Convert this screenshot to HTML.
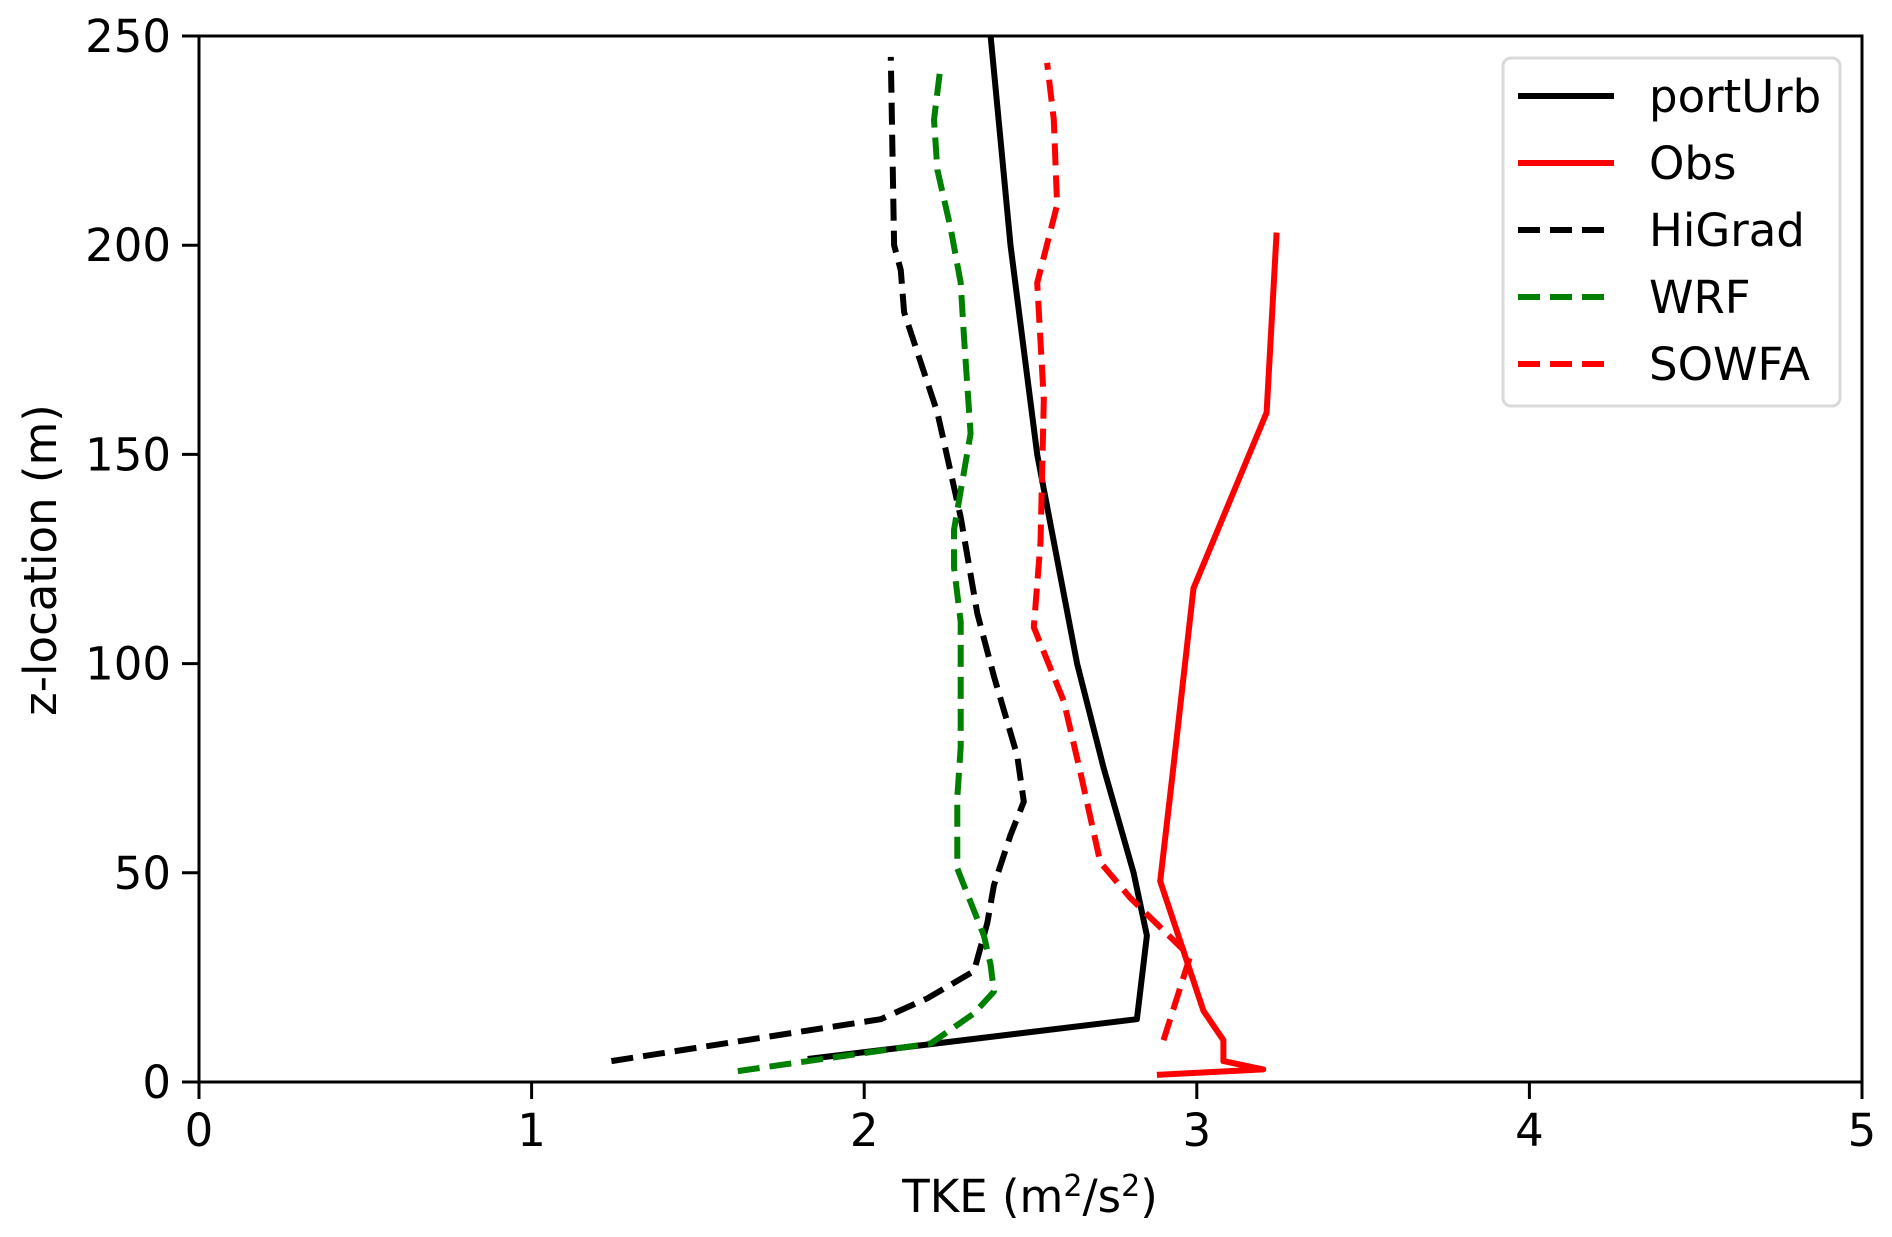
<!DOCTYPE html>
<html><head><meta charset="utf-8"><style>
html,body{margin:0;padding:0;background:#fff;}
svg{display:block;font-family:"DejaVu Sans","Liberation Sans",sans-serif;}
</style></head><body>
<svg id="chart" width="1892" height="1237" viewBox="0 0 1892 1237"></svg>
<script>
const xTicks=[0,1,2,3,4,5];
const yTicks=[0,50,100,150,200,250];
const portUrbX=[1.83,2.82,2.85,2.81,2.72,2.64,2.58,2.52,2.48,2.44,2.41,2.38];
const portUrbZ=[5.5,15,35,50,75,100,125,150,175,200,225,250];
const obsX=[2.88,3.20,3.08,3.08,3.02,2.89,2.93,2.99,3.21,3.24];
const obsZ=[1.7,3,5,10,17,48,75.5,118,160,203];
const higradX=[1.24,2.05,2.19,2.33,2.37,2.39,2.44,2.48,2.46,2.39,2.34,2.29,2.22,2.12,2.11,2.09,2.08];
const higradZ=[5,15,20,26.5,38,47,59,67,78,97,112,135,160,184,194,200,245];
const wrfX=[1.62,2.20,2.33,2.39,2.38,2.36,2.32,2.28,2.28,2.29,2.29,2.27,2.27,2.32,2.30,2.29,2.26,2.22,2.21,2.23];
const wrfZ=[2.6,9.2,16.4,21.6,28,35,43,51,68,80,110,123,132,155,178,191,204,218,230,243];
const sowfaX=[2.90,2.98,2.89,2.80,2.71,2.65,2.60,2.51,2.53,2.54,2.52,2.58,2.57,2.55];
const sowfaZ=[10,30,37,44,52.5,74,91,108.7,129,163,191,209.6,230,243.6];

const NS='http://www.w3.org/2000/svg';
const svg=document.getElementById('chart');
const L=199,R=1862,T=36,B=1082;
const xs=v=>L+(v-0)/5*(R-L);
const ys=v=>B-(v-0)/250*(B-T);
function mk(tag,attrs,parent){const e=document.createElementNS(NS,tag);for(const k in attrs)e.setAttribute(k,attrs[k]);(parent||svg).appendChild(e);return e;}

const clip=mk('clipPath',{id:'plotclip'});
mk('rect',{x:L,y:T,width:R-L,height:B-T},clip);

const series=[
 {n:'portUrb',x:portUrbX,z:portUrbZ,c:'#000000',d:null},
 {n:'Obs',x:obsX,z:obsZ,c:'#ff0000',d:null},
 {n:'HiGrad',x:higradX,z:higradZ,c:'#000000',d:'22,10'},
 {n:'WRF',x:wrfX,z:wrfZ,c:'#008000',d:'22,10'},
 {n:'SOWFA',x:sowfaX,z:sowfaZ,c:'#ff0000',d:'22,10'}
];
series.forEach(s=>{
 const pts=s.x.map((v,i)=>xs(v).toFixed(1)+','+ys(s.z[i]).toFixed(1)).join(' ');
 const a={points:pts,fill:'none',stroke:s.c,'stroke-width':6,'stroke-linejoin':'round','clip-path':'url(#plotclip)'};
 if(s.d)a['stroke-dasharray']=s.d;
 const p=mk('polyline',a);
 
 
});

const frame=mk('rect',{x:L,y:T,width:R-L,height:B-T,fill:'none',stroke:'#000','stroke-width':3});



xTicks.forEach(v=>{
 const x=xs(v);
 const t=mk('line',{x1:x,y1:B,x2:x,y2:B+17,stroke:'#000','stroke-width':3});
 
 
 const l=mk('text',{x:x,y:B+64,'font-size':45,'text-anchor':'middle',fill:'#000'});
 l.textContent=v;
 
 
});
yTicks.forEach(v=>{
 const y=ys(v);
 const t=mk('line',{x1:L-17,y1:y,x2:L,y2:y,stroke:'#000','stroke-width':3});
 
 
 const l=mk('text',{x:L-28,y:y+16,'font-size':45,'text-anchor':'end',fill:'#000'});
 l.textContent=v;
 
 
});

const xl=mk('text',{x:1030,y:1212,'font-size':45,'text-anchor':'middle',fill:'#000'});
xl.innerHTML='TKE (m<tspan dy="-16" font-size="30">2</tspan><tspan dy="16">/s</tspan><tspan dy="-16" font-size="30">2</tspan><tspan dy="16">)</tspan>';


const yl=mk('text',{x:0,y:0,'font-size':45,'text-anchor':'middle',fill:'#000',transform:'translate(56,560) rotate(-90)'});
yl.textContent='z-location (m)';



const lg=mk('g',{});


mk('rect',{x:1503,y:58,width:337,height:348,rx:8,fill:'#fff','fill-opacity':0.8,stroke:'#d9d9d9','stroke-width':3},lg);
const rowsY=[96,163,230,297,364];
series.forEach((s,i)=>{
 const y=rowsY[i];
 const a={x1:1518,y1:y,x2:1614,y2:y,stroke:s.c,'stroke-width':6};
 if(s.d)a['stroke-dasharray']=s.d;
 const ln=mk('line',a,lg);
 
 
 const tx=mk('text',{x:1649,y:y+16,'font-size':45,fill:'#000'},lg);
 tx.textContent=s.n;
 
 
});
</script>
</body></html>
